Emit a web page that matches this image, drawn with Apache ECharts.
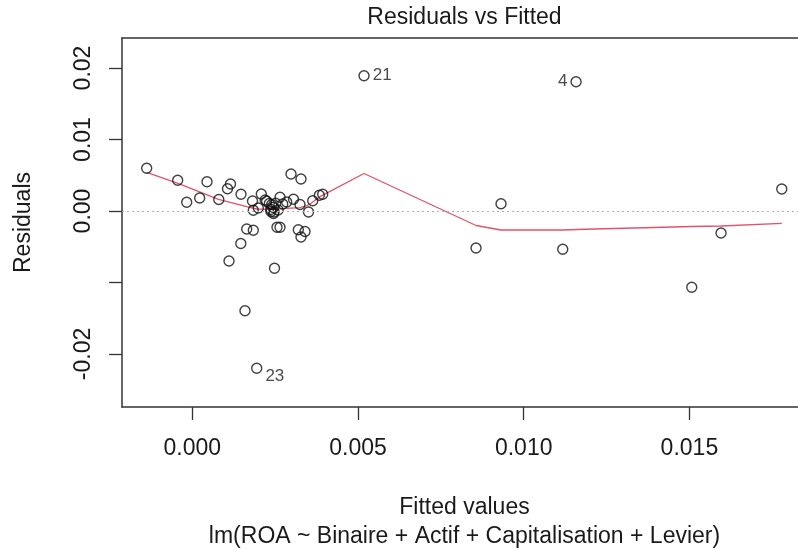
<!DOCTYPE html>
<html>
<head>
<meta charset="utf-8">
<script src="https://cdn.jsdelivr.net/npm/echarts@6.0.0/dist/echarts.min.js"></script>
<style>
  html, body { margin: 0; padding: 0; background: #fff; }
  #chart { width: 798px; height: 550px; }
</style>
</head>
<body>
<div id="chart"></div>
<script>
// fitted values / residuals
var fittedX = [
  -0.001376, -0.000441, 0.000444, -0.000169, 0.000223, 0.000800, 0.001153, 0.001062,
  0.001470, 0.001817, 0.001841, 0.001992, 0.002082, 0.002245, 0.002324, 0.002396,
  0.002445, 0.002375, 0.002466, 0.002517, 0.002647, 0.002728, 0.002849, 0.002979,
  0.003280, 0.003054, 0.003250, 0.003507, 0.003634, 0.003833, 0.003935, 0.001642,
  0.001841, 0.002556, 0.002647, 0.003199, 0.003401, 0.003280, 0.001464, 0.001108,
  0.002481, 0.001590, 0.001944, 0.005182, 0.011580, 0.009316, 0.008562, 0.011178,
  0.015955, 0.015071, 0.017787, 0.002199, 0.002366, 0.002450, 0.002590
];
var residY = [
  0.005972, 0.004294, 0.004098, 0.001231, 0.001818, 0.001608, 0.003776, 0.003105,
  0.002350, 0.001399, 0.000098, 0.000420, 0.002378, 0.001371, 0.001049, 0.000909,
  0.000490, -0.000070, -0.000140, 0.001077, 0.001930, 0.000979, 0.001259, 0.005175,
  0.004476, 0.001636, 0.000909, -0.000140, 0.001427, 0.002210, 0.002350, -0.002517,
  -0.002699, -0.002280, -0.002280, -0.002629, -0.002867, -0.003636, -0.004545, -0.006993,
  -0.008000, -0.013958, -0.022000, 0.018923, 0.018084, 0.001021, -0.005175, -0.005357,
  -0.003077, -0.010671, 0.003077, 0.001538, 0.000210, -0.000350, 0.000140
];

// lowess smoother (red line)
var smoothX = [
  -0.001376, -0.000432, 0.000791, 0.001642, 0.001944, 0.002445, 0.002849, 0.003250,
  0.003507, 0.003854, 0.005182, 0.008562, 0.009316, 0.011178, 0.011580, 0.015071,
  0.015955, 0.017787
];
var smoothY = [
  0.005413, 0.003874, 0.001636, 0.000601, 0.000280, 0.000238, 0.000378, 0.000462,
  0.000839, 0.002000, 0.005245, -0.002028, -0.002657, -0.002657, -0.002587, -0.002168,
  -0.002098, -0.001720
];

// labelled observations
var idIndex = [42, 43, 44];
var idText = ['23', '21', '4'];

var xTickVals = [0, 0.005, 0.01, 0.015];
var xTickLabels = ['0.000', '0.005', '0.010', '0.015'];
var yTickVals = [-0.02, -0.01, 0, 0.01, 0.02];
var yTickLabels = ['-0.02', '', '0.00', '0.01', '0.02'];

var FONT = '"Liberation Sans", Arial, sans-serif';
var INK = '#1a1a1a';
var AXIS = '#333';

function pickLabel(vals, labels, v) {
  for (var i = 0; i < vals.length; i++) {
    if (Math.abs(vals[i] - v) < 1e-9) return labels[i];
  }
  return '';
}

// R puts ids right of points in the left half of the x range, left otherwise
var midX = (Math.min.apply(null, fittedX) + Math.max.apply(null, fittedX)) / 2;

var pointData = fittedX.map(function (x, i) {
  var item = { value: [x, residY[i]] };
  var k = idIndex.indexOf(i);
  if (k >= 0) {
    item.label = {
      show: true,
      formatter: idText[k],
      position: x < midX ? 'right' : 'left',
      distance: 3,
      offset: idText[k] === '23' ? [0, 8] : [0, 0],
      fontSize: 17,
      fontFamily: FONT,
      color: INK
    };
  }
  return item;
});

var chart = echarts.init(document.getElementById('chart'), null, { renderer: 'canvas' });

chart.setOption({
  animation: false,
  backgroundColor: '#fff',
  grid: { left: 122, top: 38, right: 0, bottom: 143, containLabel: false },
  xAxis: [{
    type: 'value',
    min: -0.002121,
    max: 0.018277,
    splitLine: { show: false },
    axisLine: { show: true, onZero: false, lineStyle: { color: AXIS, width: 1.5 } },
    axisTick: { show: true, length: 13, customValues: xTickVals, lineStyle: { color: AXIS, width: 1.3 } },
    axisLabel: {
      customValues: xTickVals,
      margin: 30,
      fontSize: 23,
      fontFamily: FONT,
      color: INK,
      formatter: function (v) { return pickLabel(xTickVals, xTickLabels, v); }
    }
  }, {
    // top frame line
    type: 'value',
    position: 'top',
    min: -0.002121,
    max: 0.018277,
    splitLine: { show: false },
    axisLine: { show: true, onZero: false, lineStyle: { color: AXIS, width: 1.5 } },
    axisTick: { show: false },
    axisLabel: { show: false }
  }],
  yAxis: {
    type: 'value',
    min: -0.027413,
    max: 0.024196,
    splitLine: { show: false },
    axisLine: { show: true, onZero: false, lineStyle: { color: AXIS, width: 1.5 } },
    axisTick: { show: true, length: 13, customValues: yTickVals, lineStyle: { color: AXIS, width: 1.3 } },
    axisLabel: {
      customValues: yTickVals,
      rotate: 90,
      margin: 27,
      fontSize: 23,
      fontFamily: FONT,
      color: INK,
      formatter: function (v) { return pickLabel(yTickVals, yTickLabels, v); }
    }
  },
  graphic: [
    { type: 'text', x: 464.5, y: 18, style: { text: 'Residuals vs Fitted', align: 'center', verticalAlign: 'middle', fontSize: 23, fontFamily: FONT, fill: INK } },
    { type: 'text', x: 464.5, y: 508, style: { text: 'Fitted values', align: 'center', verticalAlign: 'middle', fontSize: 23, fontFamily: FONT, fill: INK } },
    { type: 'text', x: 464.5, y: 537, style: { text: 'lm(ROA ~ Binaire + Actif + Capitalisation + Levier)', align: 'center', verticalAlign: 'middle', fontSize: 23, fontFamily: FONT, fill: INK } },
    { type: 'text', x: 24, y: 222.5, rotation: Math.PI / 2, style: { text: 'Residuals', align: 'center', verticalAlign: 'middle', fontSize: 23, fontFamily: FONT, fill: INK } }
  ],
  series: [{
    type: 'scatter',
    data: pointData,
    symbol: 'circle',
    symbolSize: 10,
    itemStyle: { color: 'rgba(0,0,0,0)', borderColor: '#111', borderWidth: 1.4 },
    emphasis: { disabled: true },
    z: 3
  }, {
    type: 'line',
    data: smoothX.map(function (x, i) { return [x, smoothY[i]]; }),
    showSymbol: false,
    lineStyle: { color: '#DF536B', width: 1.3 },
    emphasis: { disabled: true },
    markLine: {
      silent: true,
      symbol: 'none',
      label: { show: false },
      lineStyle: { color: '#b0b0b0', type: [2, 3], width: 1.2 },
      data: [{ yAxis: 0 }]
    },
    z: 2
  }]
});
</script>
</body>
</html>
